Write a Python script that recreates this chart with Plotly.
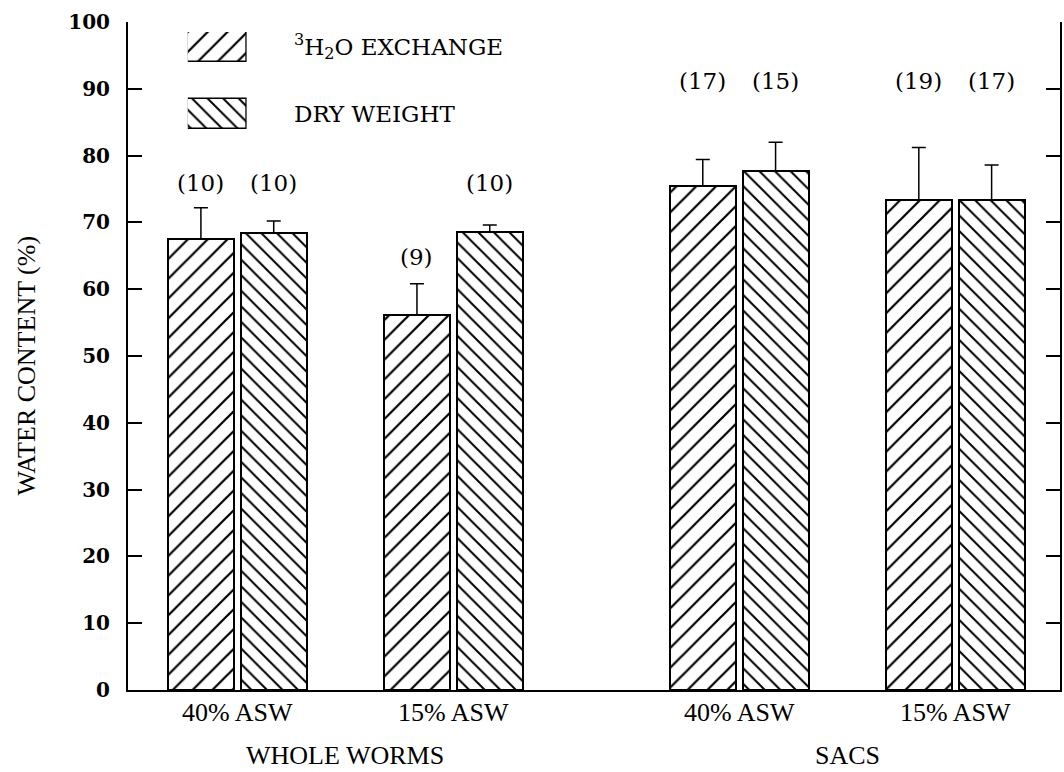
import plotly.graph_objects as go

# ---- data ----
conditions = ["40% ASW", "15% ASW", "40% ASW", "15% ASW"]
groups = ["WHOLE WORMS", "SACS"]
group_of_condition = [0, 0, 1, 1]
series_names = ["<sup>3</sup>H<sub>2</sub>O EXCHANGE", "DRY WEIGHT"]
h2o_exchange = [67.5, 56.1, 75.4, 73.4]
h2o_err = [4.7, 4.7, 4.0, 7.8]
dry_weight = [68.4, 68.6, 77.7, 73.4]
dry_err = [1.8, 1.0, 4.3, 5.2]
h2o_n = ["(10)", "(9)", "(17)", "(19)"]
dry_n = ["(10)", "(10)", "(15)", "(17)"]
h2o_n_y = [75.9, 64.8, 91.2, 91.2]
dry_n_y = [75.9, 75.9, 91.2, 91.2]
y_ticks = list(range(0, 101, 10))
y_title = "WATER CONTENT (%)"

# ---- layout helpers ----
GROUP_GAP = 0.323
xpos = [i + GROUP_GAP * g for i, g in enumerate(group_of_condition)]
BAR_W = 0.305
OFF_A = -0.321
OFF_B = 0.016

serif = "DejaVu Serif"
times = "Liberation Serif"

fig = go.Figure()

pat_line = dict(width=2, color="black")
pat_a = dict(shape="/", fgcolor="black", bgcolor="white", fgopacity=1,
             fillmode="overlay", size=14, solidity=0.16)
pat_b = dict(shape="\\", fgcolor="black", bgcolor="white", fgopacity=1,
             fillmode="overlay", size=11, solidity=0.18)

fig.add_trace(go.Bar(
    x=xpos, y=h2o_exchange, width=BAR_W, offset=OFF_A,
    marker=dict(color="white", line=pat_line, pattern=pat_a),
    error_y=dict(type="data", symmetric=False, array=h2o_err,
                 arrayminus=[0] * len(h2o_err), color="black",
                 thickness=1.5, width=7),
    showlegend=False,
))
fig.add_trace(go.Bar(
    x=xpos, y=dry_weight, width=BAR_W, offset=OFF_B,
    marker=dict(color="white", line=pat_line, pattern=pat_b),
    error_y=dict(type="data", symmetric=False, array=dry_err,
                 arrayminus=[0] * len(dry_err), color="black",
                 thickness=1.5, width=7),
    showlegend=False,
))

# n labels
for i, x in enumerate(xpos):
    fig.add_annotation(x=x + OFF_A + BAR_W / 2, y=h2o_n_y[i], text=h2o_n[i],
                       showarrow=False, font=dict(family=serif, size=23, color="black"))
    fig.add_annotation(x=x + OFF_B + BAR_W / 2, y=dry_n_y[i], text=dry_n[i],
                       showarrow=False, font=dict(family=serif, size=23, color="black"))

# group titles
for g, name in enumerate(groups):
    members = [xpos[i] for i in range(len(xpos)) if group_of_condition[i] == g]
    fig.add_annotation(x=sum(members) / len(members), xref="x", y=-0.0985, yref="paper",
                       text=name, showarrow=False, yanchor="middle",
                       font=dict(family=times, size=26, color="black"))

# y axis title
fig.add_annotation(x=-0.109, xref="paper", y=0.485, yref="paper", text=y_title,
                   textangle=-90, showarrow=False, xanchor="center", yanchor="middle",
                   font=dict(family=times, size=26, color="black"))

# custom legend on an inset axis
fig.add_trace(go.Bar(
    y=[1], x=[1], orientation="h", width=0.444, xaxis="x2", yaxis="y2",
    marker=dict(color="white", line=dict(width=1.5, color="black"), pattern=pat_a),
    showlegend=False, hoverinfo="skip",
))
fig.add_trace(go.Bar(
    y=[0], x=[1], orientation="h", width=0.444, xaxis="x2", yaxis="y2",
    marker=dict(color="white", line=dict(width=1.5, color="black"), pattern=pat_b),
    showlegend=False, hoverinfo="skip",
))
legend_text_y = [0.9626, 0.8623]
for k, name in enumerate(series_names):
    fig.add_annotation(x=0.1756, xref="paper", y=legend_text_y[k], yref="paper", text=name,
                       showarrow=False, xanchor="left", yanchor="middle",
                       font=dict(family=serif, size=23, color="black"))

fig.update_layout(
    width=1064, height=772,
    margin=dict(l=128, r=2, t=22, b=82),
    paper_bgcolor="white", plot_bgcolor="white",
    bargap=0,
    xaxis=dict(range=[-0.506, 3.808], tickvals=xpos, ticktext=conditions,
               showline=True, linecolor="black", linewidth=2, ticks="", ticklen=0,
               showgrid=False, zeroline=False, ticklabelstandoff=-2,
               tickfont=dict(family=times, size=26, color="black")),
    yaxis=dict(range=[0, 100], tickvals=y_ticks, ticks="inside", ticklen=14,
               tickwidth=1.5, tickcolor="black",
               showline=True, linecolor="black", linewidth=2, mirror="ticks",
               showgrid=False, zeroline=False, ticklabelstandoff=12,
               tickfont=dict(family=serif, size=20, color="black", weight="bold")),
    xaxis2=dict(domain=[0.0642, 0.1274], range=[0, 1], visible=False,
                anchor="y2", fixedrange=True),
    yaxis2=dict(domain=[0.8398, 0.985], range=[-0.222, 1.222], visible=False,
                anchor="x2", fixedrange=True),
)

fig.write_html("out.html", config={"displayModeBar": False},
               post_script="document.body.style.margin='0';document.body.style.overflow='hidden';")
